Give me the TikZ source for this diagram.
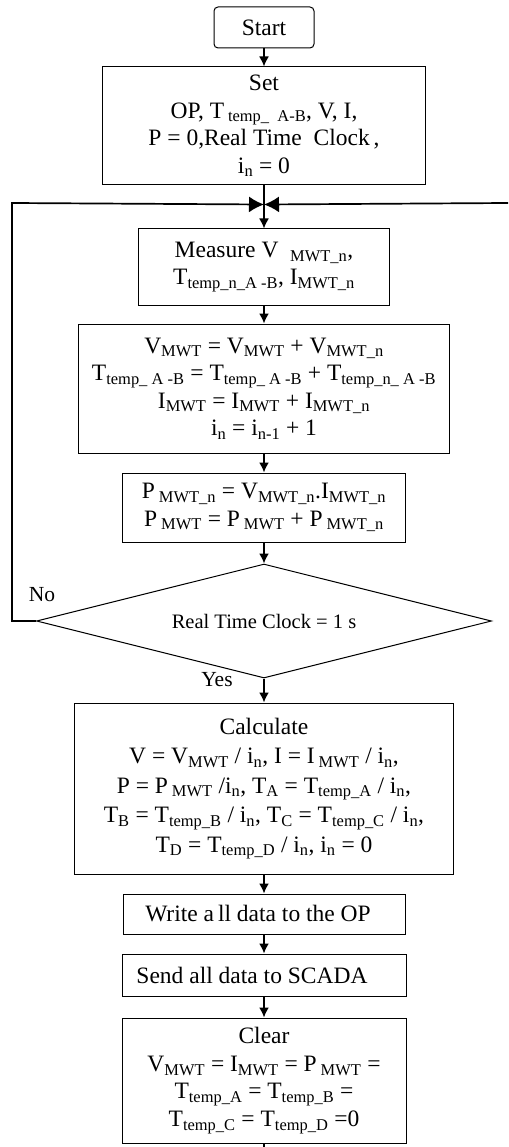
\documentclass[tikz,border=0pt]{standalone}
\usepackage{fontspec}
\setmainfont{Liberation Serif}
\usetikzlibrary{positioning, arrows.meta, shapes.geometric}
\newcommand{\sbs}[1]{\textsubscript{#1}}
\tikzset{
 proc/.style={draw, shape=rectangle, line width=1pt, align=center, inner sep=2pt,
    font=\fontsize{23.5}{27.5}\selectfont, minimum width=#1}
}

\begin{document}
\begin{tikzpicture}[x=1pt,y=1pt]
\tikzstyle{term}=[rectangle, rounded corners=4pt, draw, line width=1pt, minimum width=100pt, minimum height=41pt, font=\fontsize{23.5}{27.5}\selectfont]
\tikzstyle{dec}=[diamond, aspect=4, draw, line width=1pt, minimum width=455pt, minimum height=114pt, inner sep=0pt, font=\fontsize{20.5}{24}\selectfont]
\tikzstyle{connect}=[-{Latex[length=10pt,width=10pt]}, line width=1.7pt]
\tikzstyle{merge}=[-{Latex[length=15pt,width=16pt]}, line width=1.7pt]
\tikzstyle{line}=[line width=1.7pt]
\tikzstyle{lbl}=[font=\fontsize{21.5}{24}\selectfont]
\useasboundingbox (0,0) rectangle (508,-1147);
% 1. Nodes
%%%%%%%%%%
\node[term] (start) at (264,-27.5) {Start};
\node[proc=323pt, minimum height=118pt] (set) [below=18pt of start]
  {Set\\ OP, T\,\sbs{temp\_~~A-B}, V, I,\\ P = 0,Real Time~~Clock\,,\\ i\sbs{n} = 0};
\node[proc=251pt, minimum height=76pt] (meas) [below=43pt of set]
  {Measure V~~\sbs{MWT\_n},\\ T\sbs{temp\_n\_A -B}, I\sbs{MWT\_n}};
\node[proc=371pt, minimum height=129pt] (sum) [below=18pt of meas]
  {V\sbs{MWT} = V\sbs{MWT} + V\sbs{MWT\_n}\\
   T\sbs{temp\_ A -B} = T\sbs{temp\_ A -B} + T\sbs{temp\_n\_ A -B}\\
   I\sbs{MWT} = I\sbs{MWT} + I\sbs{MWT\_n}\\
   i\sbs{n} = i\sbs{n-1} + 1};
\node[proc=283pt, minimum height=69pt] (pow) [below=19pt of sum]
  {P\,\sbs{MWT\_n} = V\sbs{MWT\_n}.I\sbs{MWT\_n}\\ P\,\sbs{MWT} = P\,\sbs{MWT} + P\,\sbs{MWT\_n}};
\node[dec] (clock) [below=21pt of pow] {Real Time Clock = 1 s};
\node[proc=379pt, minimum height=171pt, font=\fontsize{23.5}{29.5}\selectfont] (calc) [below=24pt of clock]
  {Calculate\\
   V = V\sbs{MWT} / i\sbs{n}, I = I\,\sbs{MWT} / i\sbs{n},\\
   P = P\,\sbs{MWT} /i\sbs{n}, T\sbs{A} = T\sbs{temp\_A} / i\sbs{n},\\
   T\sbs{B} = T\sbs{temp\_B} / i\sbs{n}, T\sbs{C} = T\sbs{temp\_C} / i\sbs{n},\\
   T\sbs{D} = T\sbs{temp\_D} / i\sbs{n}, i\sbs{n} = 0};
\node[proc=282pt, minimum height=40pt] (write) [below=19pt of calc] {Write a\,ll data to the OP\hspace*{12pt}};
\node[proc=284pt, minimum height=42pt] (send) [below=19pt of write] {Send all data to SCADA\hspace*{24pt}};
\node[proc=284pt, minimum height=125pt] (clear) [below=21pt of send]
  {Clear\\ V\sbs{MWT} = I\sbs{MWT} = P\,\sbs{MWT} =\\ T\sbs{temp\_A} = T\sbs{temp\_B} =\\ T\sbs{temp\_C} = T\sbs{temp\_D} =0};
\node[lbl] (no) at (42,-595) {No};
\node[lbl] (yes) at (217,-680) {Yes};
\coordinate[below=19pt of set] (jn);
\coordinate (loopL) at (12,-203);
\coordinate (loopR) at (508,-203);
\coordinate (stop) at (clear.south |- 0,-1147);
% 2. Arrows
%%%%%%%%%%%
\draw[connect] (start) -- (set);
\draw[connect] (set) -- (meas);
\draw[merge] (clock.west) -| (loopL) -- (jn);
\draw[merge] (loopR) -- (jn);
\path (meas)  edge [connect] (sum)
      (sum)   edge [connect] (pow)
      (pow)   edge [connect] (clock)
      (clock) edge [connect] (calc)
      (calc)  edge [connect] (write)
      (write) edge [connect] (send)
      (send)  edge [connect] (clear);
\draw[line] (clear) -- (stop);
\end{tikzpicture}
\end{document}
